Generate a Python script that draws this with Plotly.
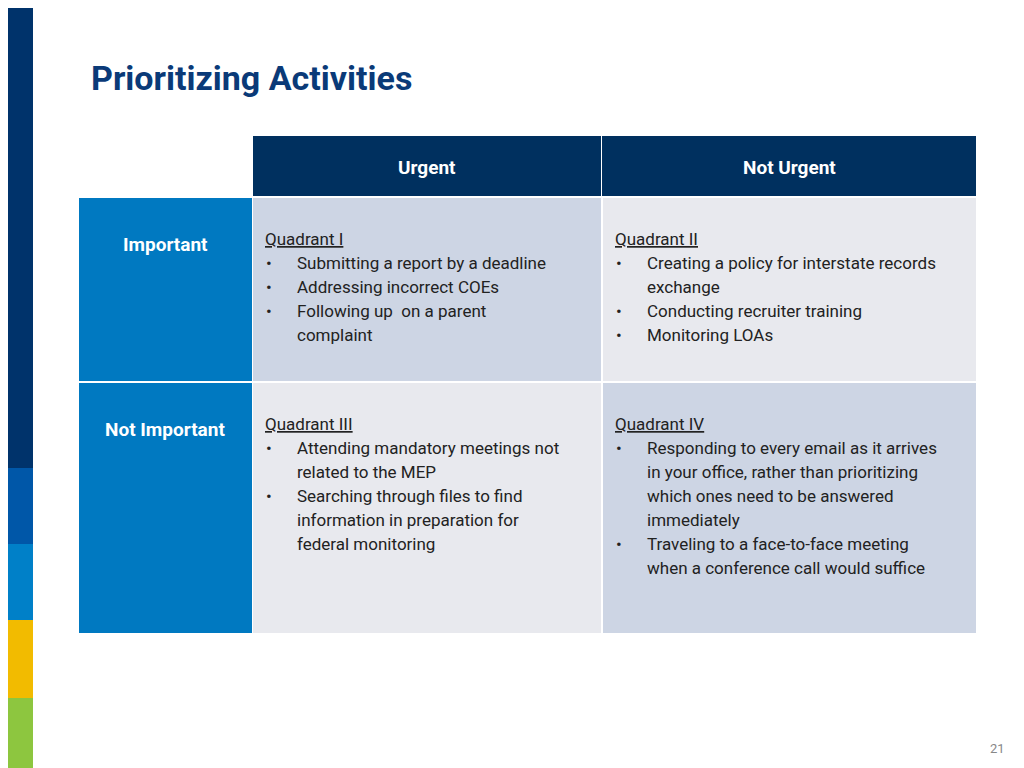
import plotly.graph_objects as go

title = "Prioritizing Activities"
col_labels = ["Urgent", "Not Urgent"]
row_labels = ["Important", "Not Important"]
quadrant_titles = ["Quadrant I", "Quadrant II", "Quadrant III", "Quadrant IV"]
quadrant_items = [
    [["Submitting a report by a deadline"], ["Addressing incorrect COEs"],
     ["Following up  on a parent", "complaint"]],
    [["Creating a policy for interstate records", "exchange"],
     ["Conducting recruiter training"], ["Monitoring LOAs"]],
    [["Attending mandatory meetings not", "related to the MEP"],
     ["Searching through files to find", "information in preparation for", "federal monitoring"]],
    [["Responding to every email as it arrives", "in your office, rather than prioritizing",
      "which ones need to be answered", "immediately"],
     ["Traveling to a face-to-face meeting", "when a conference call would suffice"]],
]
page_number = "21"

NAVY = "#00305f"
BLUE = "#0079c1"
BODY = "#222222"
cell_fill = ["#cdd5e4", "#e8e9ee", "#e8e9ee", "#cdd5e4"]

fig = go.Figure()
shapes = []
ann = []

def rect(x0, y0, x1, y1, color):
    shapes.append(dict(type="rect", x0=x0, y0=y0, x1=x1, y1=y1, xref="x", yref="y",
                       fillcolor=color, line=dict(width=0), layer="below"))

# left stripe
for (y0, y1, c) in [(0, 460, "#00336b"), (460, 536, "#0057a8"), (536, 612, "#0080c8"),
                    (612, 690, "#f2bb00"), (690, 768, "#8dc63f")]:
    rect(0, y0, 25, y1, c)

cols = [(245, 593), (595, 968)]
rows = [(190, 373), (375, 625)]

for i, lab in enumerate(col_labels):
    x0, x1 = cols[i]
    rect(x0 if i == 0 else 594, 128, x1, 188, NAVY)
    ann.append(dict(x=(x0 + x1) / 2, y=159, text="<b>%s</b>" % lab, showarrow=False,
                    font=dict(family="Roboto", size=19, color="white")))

for j, lab in enumerate(row_labels):
    y0, y1 = rows[j]
    rect(71, y0, 244, y1, BLUE)
    ann.append(dict(x=157, y=y0 + 46, text="<b>%s</b>" % lab, showarrow=False,
                    font=dict(family="Roboto", size=19, color="white")))

for q in range(4):
    r, c = divmod(q, 2)
    x0, x1 = cols[c]
    y0, y1 = rows[r]
    rect(x0, y0, x1, y1, cell_fill[q])
    tx = x0 + 10
    ty = y0 + 41
    ann.append(dict(x=tx, y=ty, text="<u>%s</u>" % quadrant_titles[q], showarrow=False,
                    xanchor="left", font=dict(family="Roboto", size=17, color=BODY)))
    line = 1
    for item in quadrant_items[q]:
        ann.append(dict(x=tx + 1, y=ty + 24 * line, text="•", showarrow=False,
                        xanchor="left", font=dict(family="Roboto", size=17, color=BODY)))
        for t in item:
            ann.append(dict(x=tx + 32, y=ty + 24 * line, text=t, showarrow=False,
                            xanchor="left", font=dict(family="Roboto", size=17, color=BODY)))
            line += 1

ann.append(dict(x=81, y=70, text="<b>%s</b>" % title, showarrow=False, xanchor="left",
                font=dict(family="Roboto", size=34, color="#0a3a78")))
ann.append(dict(x=999, y=740, text=page_number, showarrow=False, xanchor="right",
                font=dict(family="Roboto", size=13, color="#888888")))

for a in ann:
    a.setdefault("xref", "x")
    a.setdefault("yref", "y")

fig.update_layout(
    width=1024, height=768, margin=dict(l=0, r=0, t=0, b=0),
    paper_bgcolor="white", plot_bgcolor="white",
    xaxis=dict(range=[0, 1024], visible=False, fixedrange=True),
    yaxis=dict(range=[768, 0], visible=False, fixedrange=True),
    shapes=shapes, annotations=ann, showlegend=False,
)
fig.write_html("out.html")
